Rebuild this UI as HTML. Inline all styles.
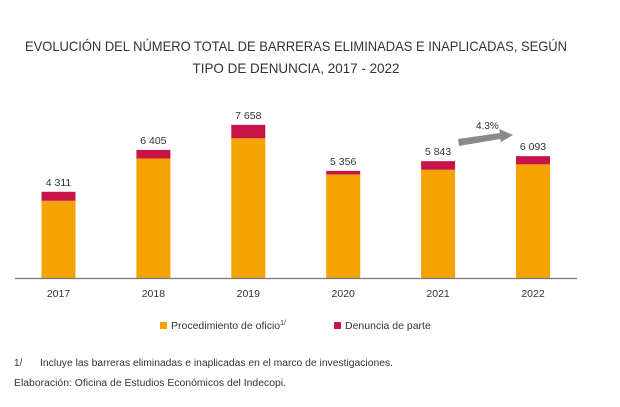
<!DOCTYPE html>
<html><head><meta charset="utf-8"><style>
body{margin:0;background:#fff;font-family:"Liberation Sans",sans-serif;}
svg{display:block}
</style></head><body>
<svg width="620" height="407">
<text x="296" y="51" text-anchor="middle" font-size="14" fill="#333" textLength="542" lengthAdjust="spacingAndGlyphs">EVOLUCIÓN DEL NÚMERO TOTAL DE BARRERAS ELIMINADAS E INAPLICADAS, SEGÚN</text>
<text x="296" y="73" text-anchor="middle" font-size="14" fill="#333" textLength="207" lengthAdjust="spacingAndGlyphs">TIPO DE DENUNCIA, 2017 - 2022</text>
<g id="bars"></g>
<line x1="15" y1="278.5" x2="577" y2="278.5" stroke="#777" stroke-width="1.2"/>
<polygon points="458,139 500,133 499,129 513,135 501,142 500,139 459,146" fill="#8a8a8a"/>
<text x="476" y="129" font-size="10" fill="#333">4.3%</text>
<rect x="160" y="322" width="7" height="7" fill="#F5A300"/>
<text x="171" y="329" font-size="10.5" fill="#333">Procedimiento de oficio<tspan font-size="7" dy="-4">1/</tspan></text>
<rect x="334" y="322" width="7" height="7" fill="#C8144B"/>
<text x="345" y="329" font-size="10.5" fill="#333">Denuncia de parte</text>
<text x="14" y="366" font-size="10" fill="#333">1/</text>
<text x="40" y="366" font-size="10" fill="#333" textLength="353" lengthAdjust="spacingAndGlyphs">Incluye las barreras eliminadas e inaplicadas en el marco de investigaciones.</text>
<text x="14" y="386" font-size="10" fill="#333" textLength="272" lengthAdjust="spacingAndGlyphs">Elaboración: Oficina de Estudios Económicos del Indecopi.</text>
</svg>
<script>
const years=["2017","2018","2019","2020","2021","2022"];
const totals=[4311,6405,7658,5356,5843,6093];
const parte=[450,430,670,180,430,410];
const totalLabels=["4 311","6 405","7 658","5 356","5 843","6 093"];
const NS="http://www.w3.org/2000/svg";
const g=document.getElementById('bars');
const base=278, k=0.02, bw=34;
const xc=i=>58.5+i*94.9, y=v=>base-v*k;
function mk(t,a){const e=document.createElementNS(NS,t);for(const n in a)e.setAttribute(n,a[n]);g.appendChild(e);return e;}
years.forEach((yr,i)=>{
  const of=totals[i]-parte[i];
  const r1=mk('rect',{x:xc(i)-bw/2,y:y(of),width:bw,height:base-y(of),fill:'#F5A300'});
  
  
  const r2=mk('rect',{x:xc(i)-bw/2,y:y(totals[i]),width:bw,height:y(of)-y(totals[i]),fill:'#C8144B'});
  
  
  const t=mk('text',{x:xc(i),y:y(totals[i])-6,'text-anchor':'middle','font-size':'10.5',fill:'#333'});
  t.textContent=totalLabels[i];
  
  
  const xl=mk('text',{x:xc(i),y:297,'text-anchor':'middle','font-size':'10.5',fill:'#333'});
  xl.textContent=yr;
  
  
});
</script>
</body></html>
